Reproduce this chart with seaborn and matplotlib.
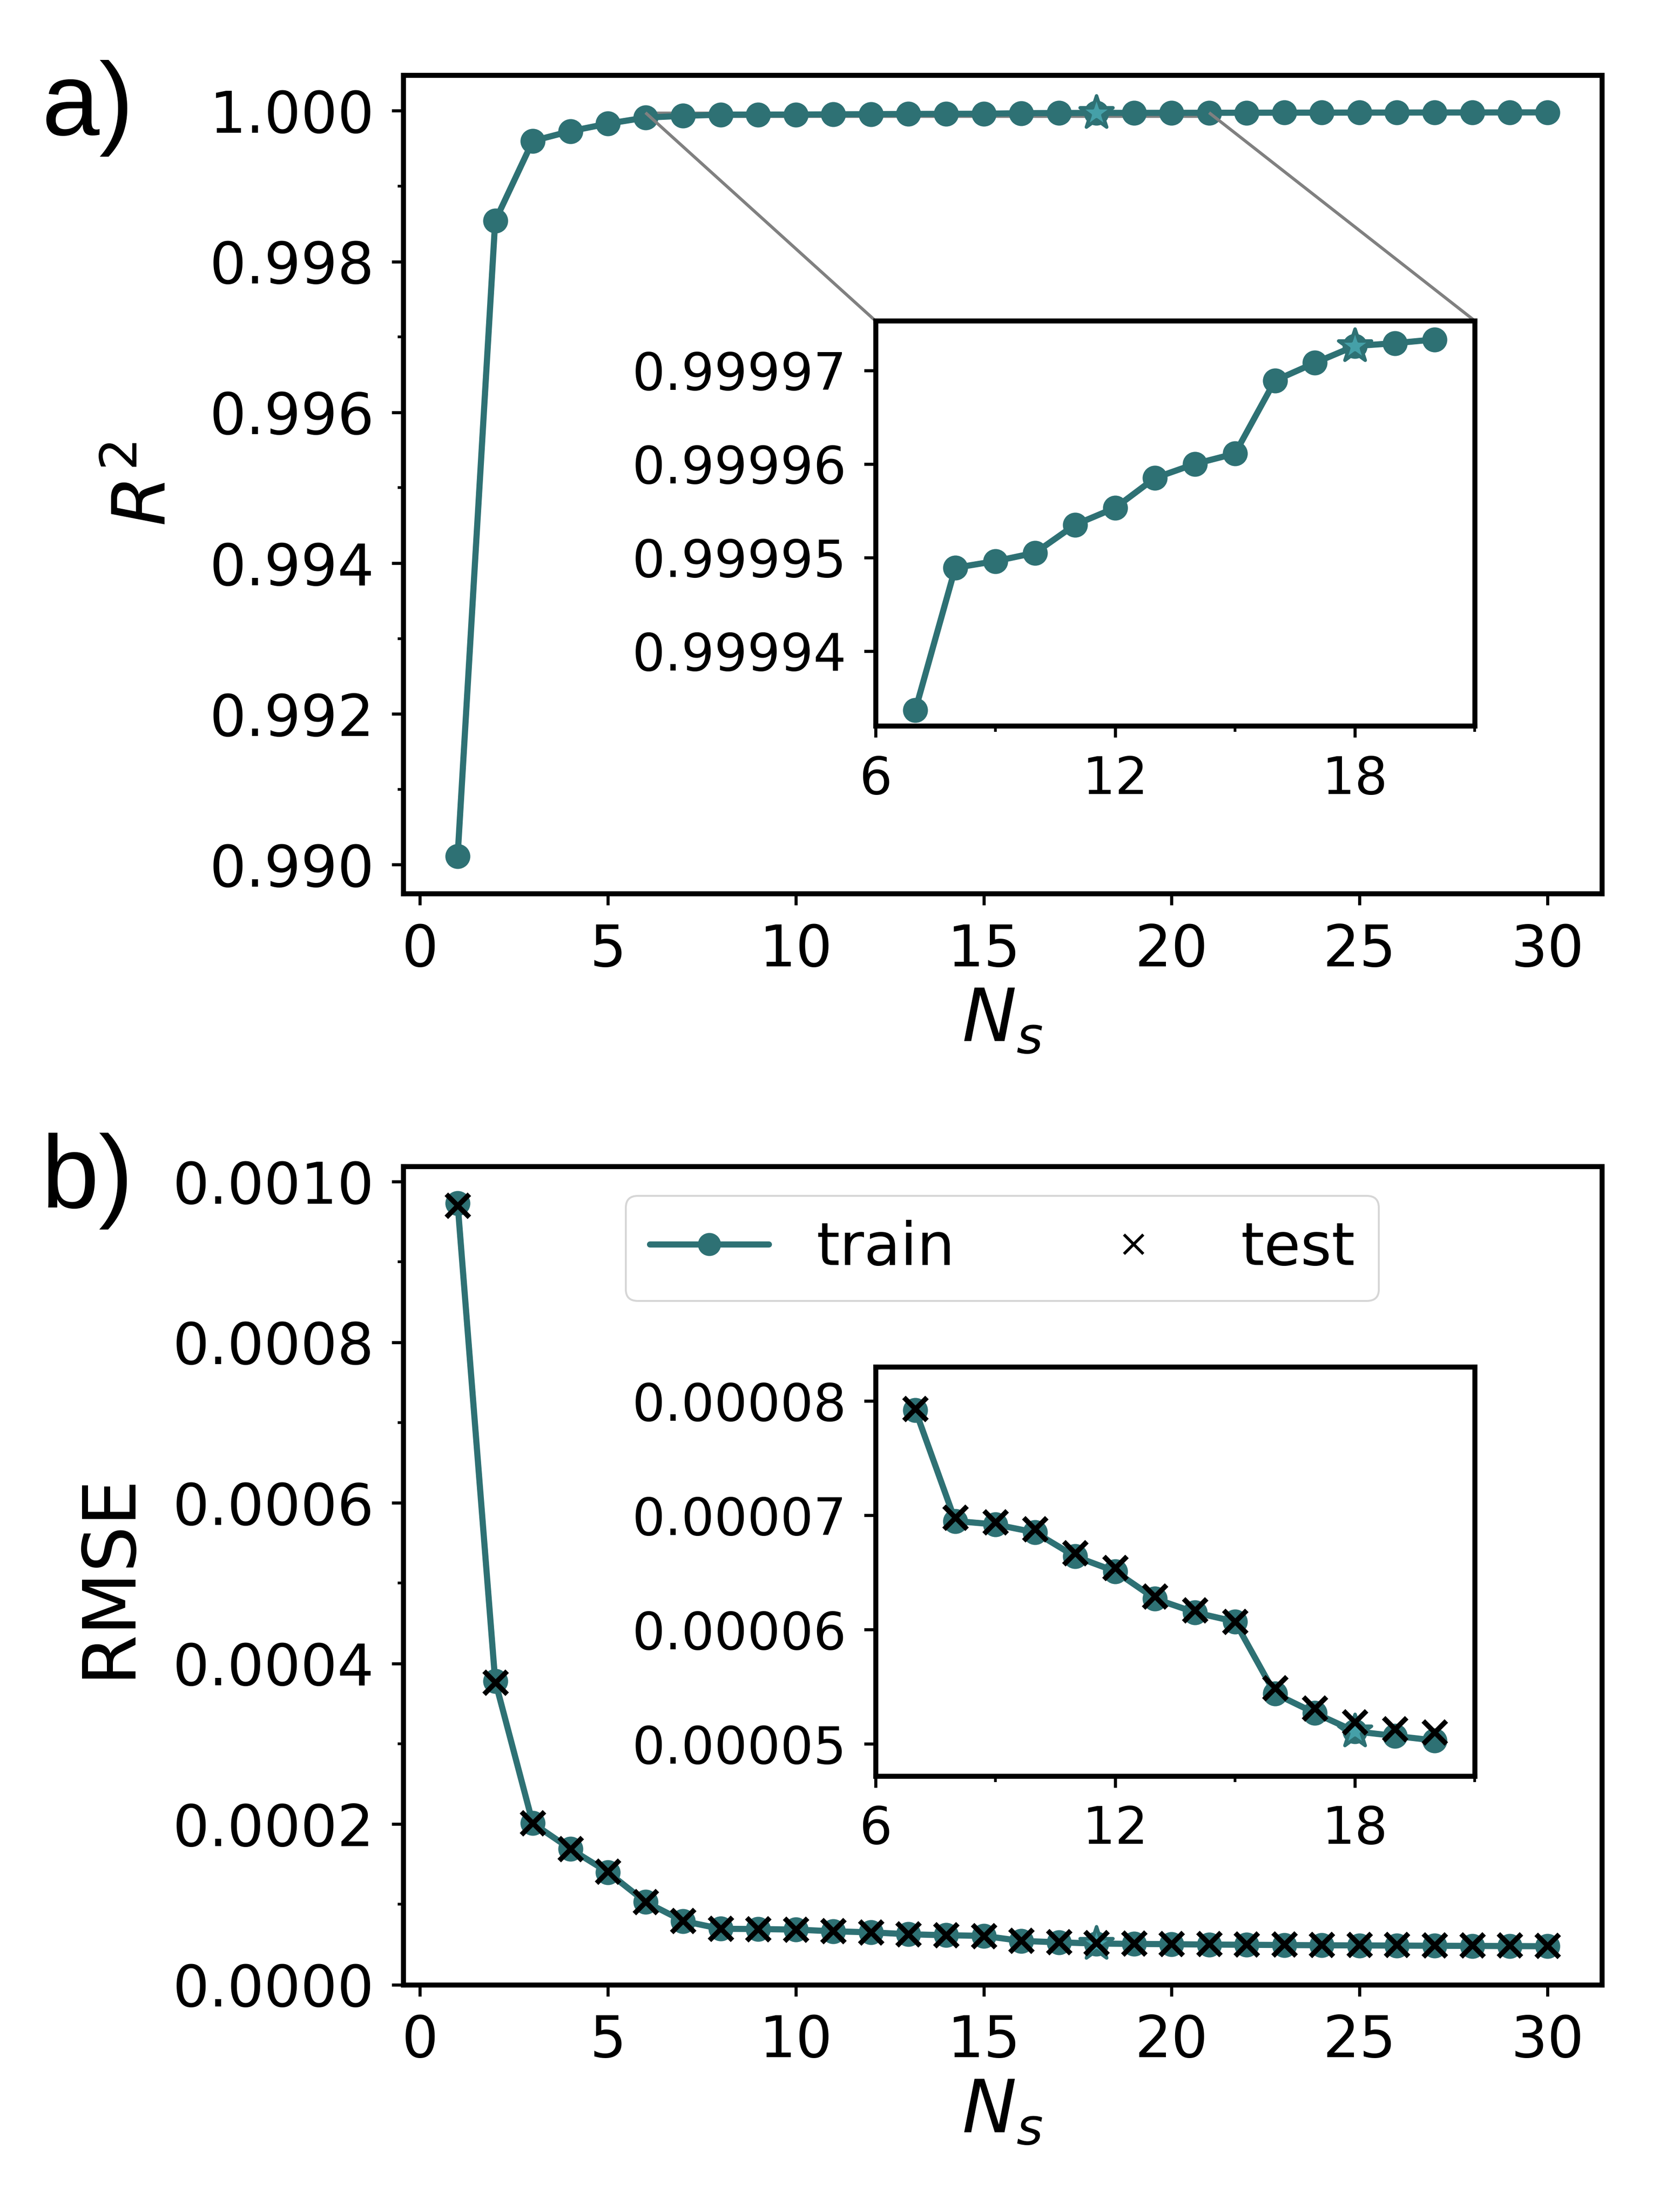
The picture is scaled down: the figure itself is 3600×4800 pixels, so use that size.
import matplotlib
matplotlib.use("Agg")
import matplotlib.pyplot as plt
import seaborn as sns
import pandas as pd
from matplotlib.lines import Line2D
from matplotlib.ticker import FormatStrFormatter, MultipleLocator
from mpl_toolkits.axes_grid1.inset_locator import mark_inset

# number of samples
n_s = list(range(1, 31))

r2_train = [0.99011, 0.99854, 0.99960, 0.99973, 0.99983, 0.99991,
            0.9999337, 0.9999489, 0.9999496, 0.9999505, 0.9999535,
            0.9999553, 0.9999585, 0.9999600, 0.9999611, 0.9999689,
            0.9999708, 0.9999726, 0.9999729, 0.9999733,
            0.999974, 0.999975, 0.999976, 0.999976, 0.999977,
            0.999977, 0.999978, 0.999978, 0.999979, 0.999979]

rmse_train = [0.000973, 0.000378, 0.000201, 0.000169, 0.000140, 0.000103,
              0.0000792, 0.0000695, 0.0000692, 0.0000685, 0.0000664,
              0.0000651, 0.0000627, 0.0000615, 0.0000607, 0.0000544,
              0.0000527, 0.0000511, 0.0000507, 0.0000503,
              0.0000499, 0.0000496, 0.0000493, 0.0000490, 0.0000488,
              0.0000486, 0.0000484, 0.0000482, 0.0000480, 0.0000478]

rmse_test = [0.000970, 0.000376, 0.000201, 0.000169, 0.000141, 0.000103,
             0.0000793, 0.0000698, 0.0000694, 0.0000688, 0.0000667,
             0.0000654, 0.0000629, 0.0000617, 0.0000607, 0.0000549,
             0.0000531, 0.0000519, 0.0000513, 0.0000510,
             0.0000506, 0.0000503, 0.0000500, 0.0000498, 0.0000496,
             0.0000494, 0.0000492, 0.0000490, 0.0000489, 0.0000487]

best_n = 18
zoom_lo, zoom_hi = 7, 20

df = pd.DataFrame({"n_s": n_s, "r2": r2_train, "rmse": rmse_train, "rmse_test": rmse_test})
df_zoom = df[(df["n_s"] >= zoom_lo) & (df["n_s"] <= zoom_hi)]
df_best = df[df["n_s"] == best_n]

teal = "#2e7174"
star_c = "#45a0a8"

sns.set_style("ticks")
plt.rcParams["font.family"] = ["DejaVu Sans"]
plt.rcParams.update({
    "text.color": "black",
    "axes.labelcolor": "black",
    "axes.edgecolor": "black",
    "xtick.color": "black",
    "ytick.color": "black",
    "axes.linewidth": 2.6,
    "xtick.major.width": 1.6,
    "ytick.major.width": 1.6,
    "xtick.minor.width": 1.4,
    "ytick.minor.width": 1.4,
    "xtick.major.size": 6,
    "ytick.major.size": 6,
    "xtick.minor.size": 3,
    "ytick.minor.size": 3,
    "xtick.major.pad": 9,
    "ytick.major.pad": 9,
    "mathtext.fontset": "dejavusans",
})

fig = plt.figure(figsize=(12, 16))
ax1 = fig.add_axes([0.243, 0.596, 0.7225, 0.370])
ax2 = fig.add_axes([0.243, 0.1028, 0.7225, 0.370])


def draw(ax, data, col, ms=12, star=18, test=None):
    sns.lineplot(data=data, x="n_s", y=col, ax=ax, color=teal, linewidth=3.2,
                 marker="o", markersize=ms, markeredgecolor=teal, markeredgewidth=1,
                 zorder=3)
    sns.scatterplot(x=df_best["n_s"], y=df_best[col], ax=ax, marker="*", s=star ** 2,
                    color=star_c, edgecolor=teal, linewidth=1.8, zorder=4)
    if test is not None:
        sns.scatterplot(data=data, x="n_s", y=test, ax=ax, marker="x", s=12 ** 2,
                        color="k", linewidth=2.6, zorder=5)
    ax.set_xlabel("")
    ax.set_ylabel("")


# ---- a) R^2 ----
draw(ax1, df, "r2")
ax1.set_xticks([0, 5, 10, 15, 20, 25, 30])
ax1.set_yticks([0.990, 0.992, 0.994, 0.996, 0.998, 1.000])
ax1.yaxis.set_minor_locator(MultipleLocator(0.001))
ax1.yaxis.set_major_formatter(FormatStrFormatter("%.3f"))
ax1.tick_params(labelsize=30)
ax1.set_xlabel("$N_s$", fontsize=38)
ax1.set_ylabel("$R^2$", fontsize=38, labelpad=15)

ins1 = ax1.inset_axes([0.394, 0.205, 0.50, 0.495])
draw(ins1, df_zoom, "r2")
ins1.set_xlim(6, 21)
ins1.set_ylim(0.999932, 0.9999753)
ins1.set_xticks([6, 12, 18])
ins1.xaxis.set_minor_locator(MultipleLocator(3))
ins1.set_yticks([0.99994, 0.99995, 0.99996, 0.99997])
ins1.yaxis.set_major_formatter(FormatStrFormatter("%.5f"))
ins1.tick_params(labelsize=27)
mark_inset(ax1, ins1, loc1=2, loc2=1, fc="none", ec="gray", lw=1.6, zorder=1)

# ---- b) RMSE ----
draw(ax2, df, "rmse", test="rmse_test")
ax2.set_xticks([0, 5, 10, 15, 20, 25, 30])
ax2.set_yticks([0.0, 0.0002, 0.0004, 0.0006, 0.0008, 0.0010])
ax2.yaxis.set_minor_locator(MultipleLocator(0.0001))
ax2.yaxis.set_major_formatter(FormatStrFormatter("%.4f"))
ax2.tick_params(labelsize=30)
ax2.set_xlabel("$N_s$", fontsize=38)
ax2.set_ylabel("RMSE", fontsize=38, labelpad=15)

ins2 = ax2.inset_axes([0.394, 0.255, 0.50, 0.50])
draw(ins2, df_zoom, "rmse", test="rmse_test")
ins2.set_xlim(6, 21)
ins2.set_ylim(0.0000472, 0.0000830)
ins2.set_xticks([6, 12, 18])
ins2.xaxis.set_minor_locator(MultipleLocator(3))
ins2.set_yticks([0.00005, 0.00006, 0.00007, 0.00008])
ins2.yaxis.set_major_formatter(FormatStrFormatter("%.5f"))
ins2.tick_params(labelsize=27)

handles = [Line2D([], [], color=teal, lw=3.2, marker="o", markersize=11, markeredgecolor=teal),
           Line2D([], [], color="k", lw=0, marker="x", markersize=10, markeredgewidth=1.5)]
ax2.legend(handles, ["train", "test"], loc="upper center", ncol=2, fontsize=31)

fig.text(0.025, 0.939, "a)", fontsize=54, family=["Liberation Sans"], va="baseline")
fig.text(0.025, 0.454, "b)", fontsize=54, family=["Liberation Sans"], va="baseline")

fig.savefig("out.png", dpi=300)
